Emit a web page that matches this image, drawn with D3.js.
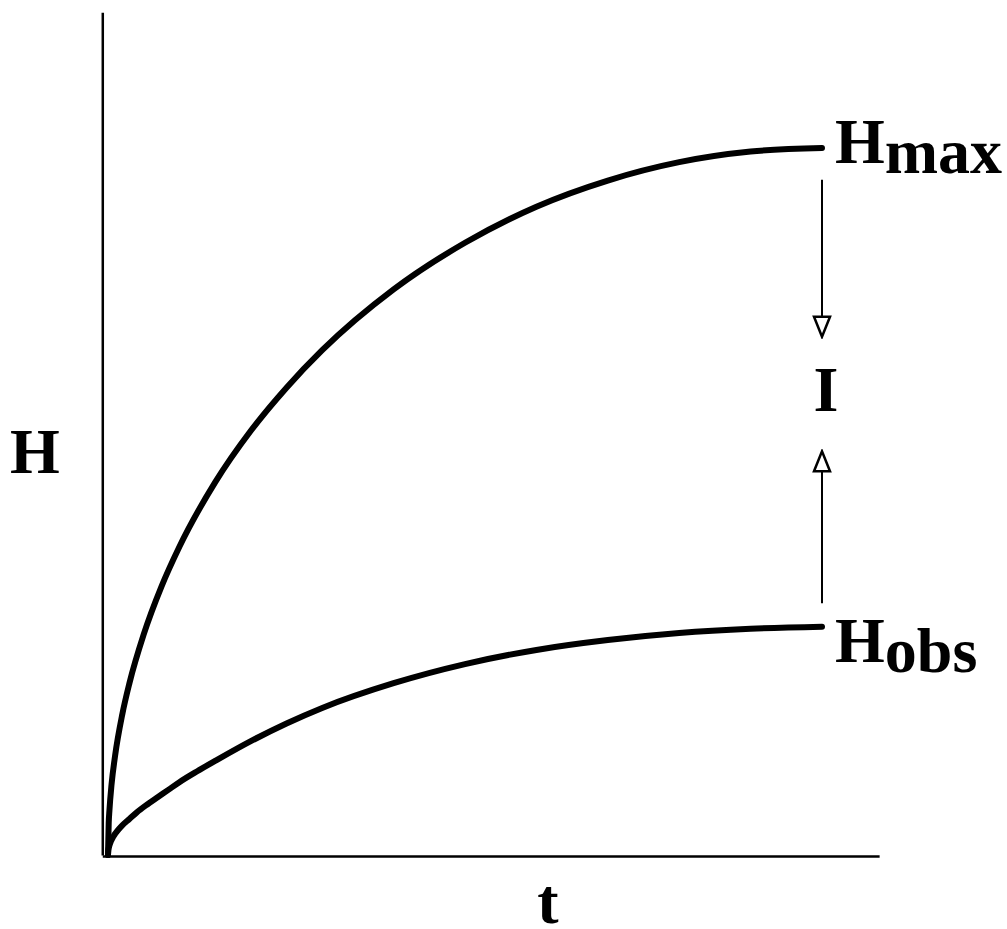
<!DOCTYPE html>
<html>
<head>
<meta charset="utf-8">
<script src="https://cdn.jsdelivr.net/npm/d3@7"></script>
<style>
html, body { margin: 0; padding: 0; background: #fff; }
svg { display: block; }
text { font-family: "Liberation Serif", "Times New Roman", serif; font-weight: bold; fill: #000; }
</style>
</head>
<body>
<svg id="chart" width="1007" height="929"></svg>
<script>
// ---- data (time t and height H in arbitrary units) ----
const tValuesMax = [0, 0.01, 0.02, 0.05, 0.1, 0.2, 0.3, 0.5, 0.75, 1, 1.5, 2, 2.5, 3, 4, 5, 6, 7, 8, 9, 10];
const hMax       = [0, 0.45, 0.63, 1.00, 1.41, 1.99, 2.43, 3.12, 3.80, 4.36, 5.27, 6.00, 6.61, 7.14, 8.00, 8.66, 9.17, 9.54, 9.80, 9.95, 10.0];
const tValuesObs = [0, 0.005, 0.01, 0.02, 0.035, 0.05, 0.075, 0.1, 0.15, 0.2, 0.3, 0.4, 0.55, 0.7, 0.85, 1, 1.25, 1.5, 2, 2.5, 3, 4, 5, 6, 7, 8, 9, 10];
const hObs       = [0, 0.067, 0.095, 0.134, 0.178, 0.212, 0.26, 0.30, 0.365, 0.42, 0.51, 0.60, 0.715, 0.82, 0.925, 1.03, 1.185, 1.33, 1.61, 1.86, 2.08, 2.43, 2.70, 2.90, 3.04, 3.14, 3.20, 3.23];
// arrows showing the gap I between the two curves at the final time
const arrowT = 10;
const arrowDown = [9.55, 7.33];  // from H, to H
const arrowUp   = [3.56, 5.71];
// axis extents (data units)
const xAxisExtent = [-0.08, 10.8];
const yAxisExtent = [0, 11.92];
// labels
const axisLabelX = "t";
const axisLabelY = "H";
const gapLabel = "I";
const curveLabels = [
  { base: "H", sub: "max", t: 10, h: 10.0 },
  { base: "H", sub: "obs", t: 10, h: 3.23 }
];

// ---- scales ----
const svg = d3.select("#chart");
const x = d3.scaleLinear().domain([0, 10]).range([108, 822]);
const y = d3.scaleLinear().domain([0, 10]).range([855, 148]);

// ---- axes (plain lines, no ticks) ----
const yAxis = d3.axisLeft(d3.scaleLinear().domain(yAxisExtent).range([y(yAxisExtent[0]), y(yAxisExtent[1])]))
  .ticks(0).tickSizeOuter(0);
svg.append("g").attr("transform", `translate(${x(xAxisExtent[0])},0)`).call(yAxis)
  .call(g => g.select(".domain").attr("stroke", "#000").attr("stroke-width", 2.5));
const xAxis = d3.axisBottom(d3.scaleLinear().domain(xAxisExtent).range([x(xAxisExtent[0]), x(xAxisExtent[1])]))
  .ticks(0).tickSizeOuter(0);
svg.append("g").attr("transform", `translate(0,${y(0) + 1})`).call(xAxis)
  .call(g => g.select(".domain").attr("stroke", "#000").attr("stroke-width", 2.5));

// ---- curves ----
const line = d3.line().x(d => x(d[0])).y(d => y(d[1])).curve(d3.curveMonotoneX);
const seriesMax = tValuesMax.map((t, i) => [t, hMax[i]]);
const seriesObs = tValuesObs.map((t, i) => [t, hObs[i]]);
svg.selectAll("path.curve").data([seriesMax, seriesObs]).enter().append("path")
  .attr("class", "curve")
  .attr("d", line)
  .attr("fill", "none")
  .attr("stroke", "#000")
  .attr("stroke-width", 6)
  .attr("stroke-linecap", "round")
  .attr("stroke-linejoin", "round");

// ---- arrows ----
const defs = svg.append("defs");
defs.append("marker")
  .attr("id", "openTri")
  .attr("viewBox", "0 0 24 20")
  .attr("refX", 22).attr("refY", 10)
  .attr("markerWidth", 24).attr("markerHeight", 20)
  .attr("markerUnits", "userSpaceOnUse")
  .attr("orient", "auto")
  .append("path")
  .attr("d", "M2,2 L22,10 L2,18 Z")
  .attr("fill", "#fff")
  .attr("stroke", "#000")
  .attr("stroke-width", 2.5)
  .attr("stroke-linejoin", "miter");
svg.selectAll("line.arrow").data([arrowDown, arrowUp]).enter().append("line")
  .attr("class", "arrow")
  .attr("x1", x(arrowT)).attr("x2", x(arrowT))
  .attr("y1", d => y(d[0])).attr("y2", d => y(d[1]))
  .attr("stroke", "#000")
  .attr("stroke-width", 2)
  .attr("marker-end", "url(#openTri)");

// ---- labels ----
const fs = 64;
svg.append("text").attr("x", 10).attr("y", 473).style("font-size", fs + "px").text(axisLabelY);
svg.append("text").attr("x", 548).attr("y", 923).attr("text-anchor", "middle").style("font-size", fs + "px").text(axisLabelX);
svg.append("text").attr("x", x(arrowT) + 4).attr("y", y((arrowDown[1] + arrowUp[1]) / 2) + 17)
  .attr("text-anchor", "middle").style("font-size", fs + "px").text(gapLabel);

const labelDy = [15, 35];
curveLabels.forEach((c, i) => {
  const t = svg.append("text")
    .attr("x", x(c.t) + 13)
    .attr("y", y(c.h) + labelDy[i])
    .style("font-size", fs + "px");
  t.append("tspan").text(c.base);
  t.append("tspan").attr("dy", 10).text(c.sub);
});
</script>
</body>
</html>
